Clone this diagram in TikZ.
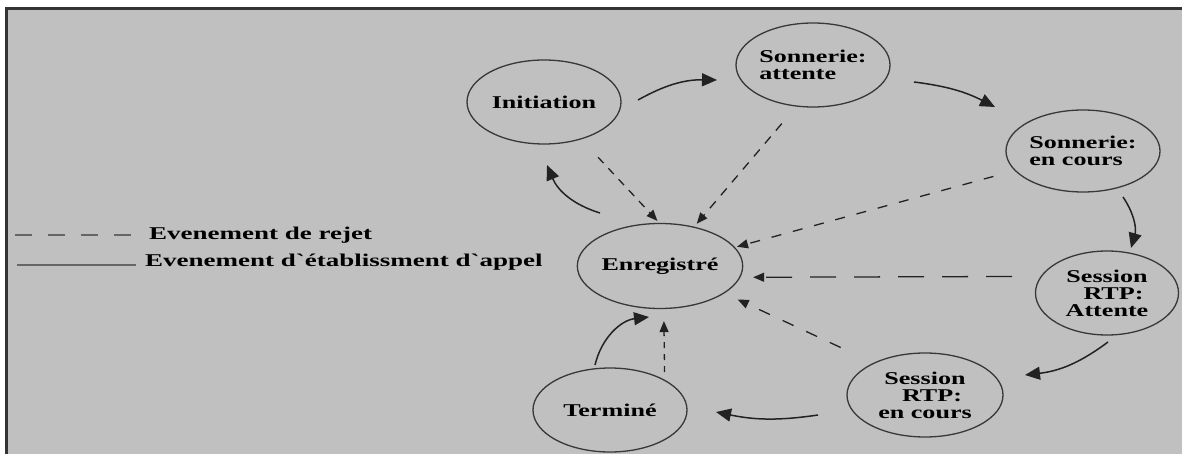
\documentclass[tikz,border=0pt]{standalone}
\usepackage{fontspec}
\setmainfont{Liberation Serif}[FakeStretch=1.45]
\newfontfamily\legendfont{Liberation Serif}[FakeStretch=1.5,Ligatures=TeXOff]
\usetikzlibrary{shapes.geometric,arrows.meta,calc}

\definecolor{panel}{HTML}{C0C0C0}
\definecolor{framec}{HTML}{333333}
\definecolor{ink}{HTML}{222222}

\begin{document}
\begin{tikzpicture}[x=1pt,y=-1pt,
  state/.style={ellipse,draw=ink!90,line width=1.3pt,minimum width=154pt,
    minimum height=84pt,inner sep=0pt,text=black,
    font=\fontsize{18}{17}\selectfont\bfseries},
  legend/.style={inner sep=0pt,text=black,font=\fontsize{18}{17}\selectfont\legendfont\bfseries},
  flow/.style={draw=ink,line width=1.5pt,-{Triangle[length=15pt,width=13pt]}},
  reject/.style={draw=ink,line width=1.3pt,-{Triangle[length=11pt,width=9pt]}},
  legline/.style={draw=black!60,line width=2pt},
]
\useasboundingbox (0,0) rectangle (1182,454);
\fill[white] (0,0) rectangle (1182,454);
\begin{scope}
  \clip (0,0) rectangle (1182,454);
  \draw[fill=panel,draw=framec,line width=3pt] (6.5,8.7) rectangle (1200,480);
\end{scope}

% states
\node[state] (ini) at (544,102) {Initiation};
\node[state,align=left] (sona) at (813,65) {Sonnerie:\\attente};
\node[state,align=left,minimum height=82pt] (sonc) at (1083,151) {Sonnerie:\\en cours};
\node[state,align=center,minimum width=143pt] (sesa) at (1107,293) {Session\\\hspace*{13pt}RTP:\\Attente};
\node[state,align=center,minimum width=156pt] (sesc) at (925,395) {Session\\\hspace*{14pt}RTP:\\en cours};
\node[state,minimum height=85pt] (enr) at (660,266) {Enregistré};
\node[state] (ter) at (610,410) {Terminé};

% call set-up transitions
\draw[flow] ($(ini.center)+(94,-2)$) to[bend left=15] ($(sona.center)+(-96,15)$);
\draw[flow] ($(sona.center)+(101,17)$) to[bend left=10] ($(sonc.center)+(-88,-44)$);
\draw[flow] ($(sonc.center)+(40,46)$) to[bend left=25] ($(sesa.center)+(24,-45)$);
\draw[flow] ($(sesa.center)+(1,49)$) to[bend left=15] ($(sesc.center)+(100,-20)$);
\draw[flow] ($(sesc.center)+(-107,20)$) to[bend left=10] ($(ter.center)+(106,2)$);
\draw[flow] ($(ter.center)+(-15,-45)$) to[bend left=35] ($(enr.center)+(-11,51)$);
\draw[flow] ($(enr.center)+(-60,-53)$) to[bend left=25] ($(ini.center)+(3,63)$);

% rejection transitions
\draw[reject,dash pattern=on 8pt off 7pt,shorten <=24.5pt,shorten >=2.7pt] (ini.-45.5) -- (enr.91.6);
\draw[reject,dash pattern=on 9pt off 8pt,shorten <=22.3pt,shorten >=3.9pt] (sona.248.1) -- (enr.49.5);
\draw[reject,dash pattern=on 10pt off 12pt,shorten <=21.9pt,shorten >=2pt] (sonc.196.9) -- (enr.14);
\draw[reject,dash pattern=on 26pt off 18pt,shorten <=28.4pt,shorten >=12.7pt] (sesa.166.5) -- (enr.-8.4);
\draw[reject,dash pattern=on 12pt off 14pt,shorten <=36.2pt,shorten >=14.6pt] (sesc.148.2) -- (enr.-23);
\draw[reject,dash pattern=on 6pt off 6pt,shorten <=7.5pt,shorten >=12pt] (ter.29.9) -- (enr.-85.9);

% legend
\node[legend,anchor=base west] (lgr) at (149,240) {Evenement de rejet};
\node[legend,anchor=base west] (lga) at (145,266) {Evenement d`établissment d`appel};
\draw[legline,dash pattern=on 17pt off 16pt] (15,235) -- (134,235);
\draw[legline] (17,265) -- (136,265);
\end{tikzpicture}
\end{document}
